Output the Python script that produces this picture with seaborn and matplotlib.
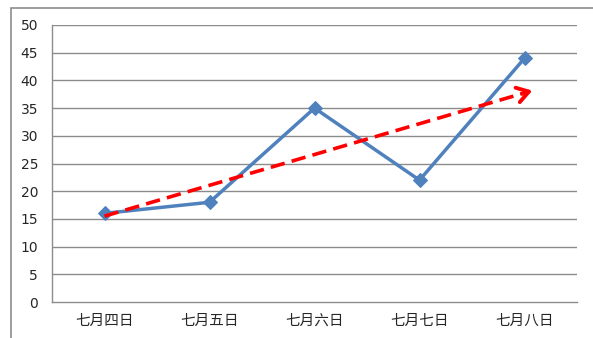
import numpy as np
import pandas as pd
import matplotlib
matplotlib.use("Agg")
import matplotlib.pyplot as plt
import seaborn as sns
from matplotlib.patches import Rectangle

# categories and values
days = ["七月四日", "七月五日", "七月六日", "七月七日", "七月八日"]
counts = [16, 18, 35, 22, 44]
# hand drawn trend arrow: start / end values and x positions
trend_x = [0, 4.1]
trend_y = [15.5, 38.3]
y_ticks = list(range(0, 51, 5))

sns.set_theme(style="white")
plt.rcParams["font.family"] = ["DejaVu Sans", "Noto Sans CJK SC"]

df = pd.DataFrame({"pos": np.arange(len(days)), "count": counts})

fig = plt.figure(figsize=(5.93, 3.38), dpi=100)
ax = fig.add_axes([52 / 593, 1 - 302 / 338, 525 / 593, 277 / 338])

# grid lines
for v in y_ticks[1:]:
    ax.axhline(v, color="#8c8c8c", lw=1.0, zorder=0)

sns.lineplot(data=df, x="pos", y="count", ax=ax, color="#4F81BD", lw=2.5,
             marker="D", markersize=7, markeredgecolor="#4F81BD", zorder=3)

# red dashed trend with arrow head
tx = [trend_x[0], trend_x[1] - 0.1]
ty = [trend_y[0], trend_y[0] + (trend_y[1] - trend_y[0]) * (tx[1] - trend_x[0]) / (trend_x[1] - trend_x[0])]
sns.lineplot(x=tx, y=ty, ax=ax, color="#FF0000", lw=2.6, dashes=False, zorder=4,
             linestyle=(0, (4, 2)))
ax.annotate("", xy=(trend_x[1], trend_y[1]), xytext=(tx[1] - 0.05, ty[1] - 0.28),
            arrowprops=dict(arrowstyle="->, head_length=0.7, head_width=0.45",
                            color="#FF0000", lw=2.8), zorder=5)

ax.set_xlim(-0.5, len(days) - 0.5)
ax.set_ylim(0, 50)
ax.set_yticks(y_ticks)
ax.set_xticks(np.arange(len(days)))
ax.set_xticklabels(days, fontsize=10.5)
ax.set_xticks(np.arange(len(days) + 1) - 0.5, minor=True)
ax.tick_params(axis="x", which="major", length=0, pad=8)
ax.tick_params(axis="x", which="minor", length=4, width=1, color="#8c8c8c", direction="out")
ax.tick_params(axis="y", length=4, width=1, color="#8c8c8c", direction="out", labelsize=10, pad=6)
ax.set_xlabel("")
ax.set_ylabel("")

for s in ["top", "right"]:
    ax.spines[s].set_visible(False)
for s in ["left", "bottom"]:
    ax.spines[s].set_color("#8c8c8c")
    ax.spines[s].set_linewidth(1.0)

# outer chart frame
fig.patches.append(Rectangle((11 / 593, -0.2), 1.2, 1.2 - 8 / 338, transform=fig.transFigure,
                             fill=False, edgecolor="#8c8c8c", lw=1.2))

fig.savefig("out.png", dpi=100)
